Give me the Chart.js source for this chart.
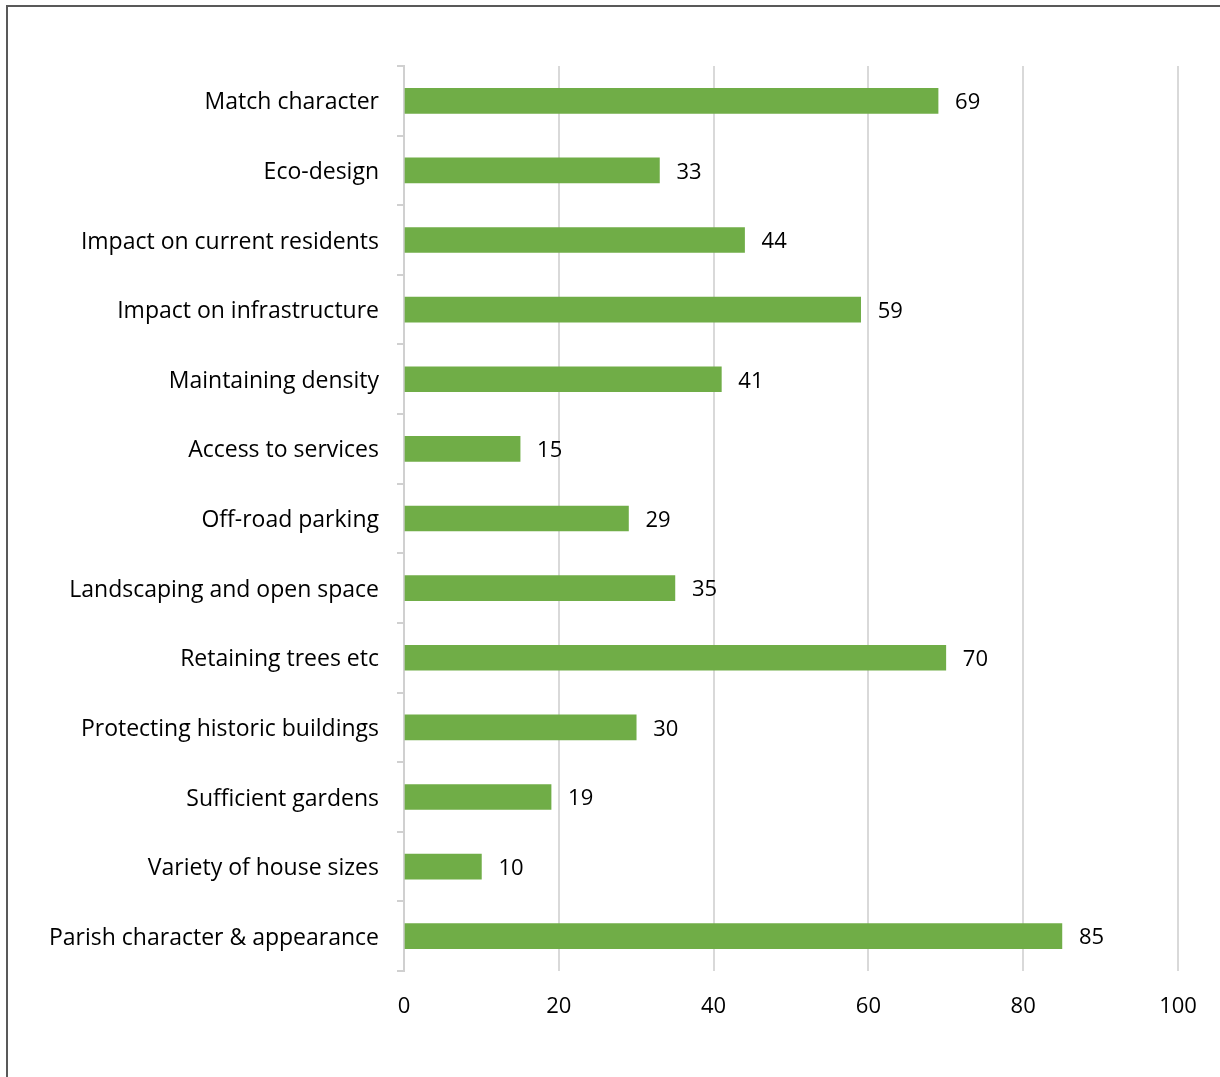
<!DOCTYPE html>
<html>
<head>
<meta charset="utf-8">
<title>Design priorities</title>
<script src="https://cdn.jsdelivr.net/npm/chart.js@4.4.1/dist/chart.umd.min.js"></script>
<style>
  html, body { margin: 0; padding: 0; background: #fff; }
  #wrap { position: relative; width: 1220px; height: 1077px; }
</style>
</head>
<body>
<div id="wrap"><canvas id="chart"></canvas></div>
<script>
// Categories, top to bottom
const categories = [
    'Match character',
    'Eco-design',
    'Impact on current residents',
    'Impact on infrastructure',
    'Maintaining density',
    'Access to services',
    'Off-road parking',
    'Landscaping and open space',
    'Retaining trees etc',
    'Protecting historic buildings',
    'Sufficient gardens',
    'Variety of house sizes',
    'Parish character & appearance'
];

// Number of responses per category
const responses = [69, 33, 44, 59, 41, 15, 29, 35, 70, 30, 19, 10, 85];

// X axis ticks
const xTicks = [0, 20, 40, 60, 80, 100];

const FONT = '"Open Sans", Lato, sans-serif';

// Frame line along the top and left edge
const framePlugin = {
    id: 'frame',
    beforeDraw(chart) {
        const ctx = chart.ctx;
        ctx.save();
        ctx.strokeStyle = '#595959';
        ctx.lineWidth = 2;
        ctx.beginPath();
        ctx.moveTo(7, chart.height);
        ctx.lineTo(7, 6);
        ctx.lineTo(chart.width, 6);
        ctx.stroke();
        ctx.restore();
    }
};

// Value label at the end of each bar
const valueLabels = {
    id: 'valueLabels',
    afterDatasetsDraw(chart) {
        const ctx = chart.ctx;
        const meta = chart.getDatasetMeta(0);
        ctx.save();
        ctx.font = '22px ' + FONT;
        ctx.fillStyle = '#000';
        ctx.textAlign = 'left';
        ctx.textBaseline = 'middle';
        meta.data.forEach((bar, i) => {
            ctx.fillText(String(responses[i]), bar.x + 17, bar.y + 2);
        });
        ctx.restore();
    }
};

const ctx = document.getElementById('chart').getContext('2d');
new Chart(ctx, {
    type: 'bar',
    data: {
        labels: categories,
        datasets: [{
            data: responses,
            backgroundColor: '#70AD47',
            borderWidth: 0,
            barThickness: 25
        }]
    },
    options: {
        indexAxis: 'y',
        responsive: true,
        maintainAspectRatio: false,
        animation: false,
        layout: { padding: { left: 0, right: 42, top: 66, bottom: 0 } },
        plugins: {
            legend: { display: false },
            tooltip: { enabled: false }
        },
        scales: {
            x: {
                min: 0,
                max: 100,
                afterBuildTicks(scale) {
                    scale.ticks = xTicks.map(v => ({ value: v }));
                },
                afterFit(scale) { scale.height = 106; },
                grid: {
                    color: '#d9d9d9',
                    lineWidth: 2,
                    drawTicks: false
                },
                border: { display: false },
                ticks: {
                    padding: 23,
                    color: '#000',
                    font: { family: FONT, size: 22 }
                }
            },
            y: {
                afterFit(scale) { scale.width = 404; },
                grid: {
                    offset: true,
                    drawOnChartArea: false,
                    drawTicks: true,
                    tickLength: 7,
                    color: '#d0d0d0',
                    lineWidth: 2
                },
                border: { display: true, color: '#d0d0d0', width: 2 },
                ticks: {
                    padding: 18,
                    labelOffset: 2,
                    color: '#000',
                    font: { family: FONT, size: 23 }
                }
            }
        }
    },
    plugins: [framePlugin, valueLabels]
});
</script>
</body>
</html>
